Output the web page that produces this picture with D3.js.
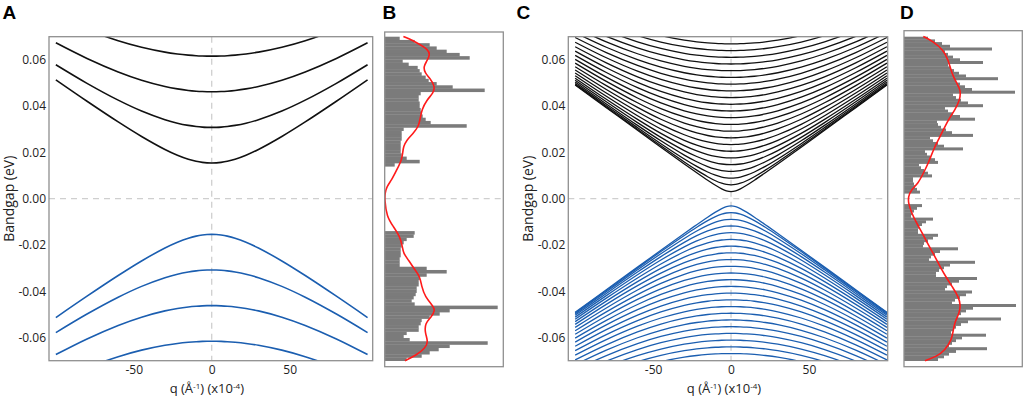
<!DOCTYPE html>
<html>
<head>
<meta charset="utf-8">
<script src="https://cdn.jsdelivr.net/npm/d3@7"></script>
<style>
  body { margin: 0; background: #fff; }
  svg text { font-family: "Open Sans", sans-serif; fill: #222; }
  .panel-letter { font-family: "Liberation Sans", Arial, sans-serif; font-weight: bold; font-size: 19px; fill: #000; }
</style>
</head>
<body>
<div id="chart"></div>
<script>

// ---- data (energies in eV, q in 1e-4 1/A) ----

// half q grid, bands are symmetric about q = 0
var qHalf = [0, 3, 6, 10, 15, 22, 30, 45, 60, 80, 100];

// panel A: band energy magnitude at each qHalf point (conduction +, valence -)
var bandA1 = [0.0154, 0.01547, 0.01568, 0.01616, 0.01706, 0.0188, 0.02129, 0.0269, 0.03319, 0.04212, 0.05136];
var bandA2 = [0.0308, 0.03084, 0.03094, 0.03119, 0.03167, 0.03263, 0.03413, 0.03788, 0.04258, 0.04985, 0.05788];
var bandA3 = [0.0462, 0.04622, 0.04629, 0.04646, 0.04678, 0.04744, 0.04848, 0.05119, 0.05476, 0.06059, 0.06735];
var bandA4 = [0.0616, 0.06162, 0.06167, 0.06179, 0.06204, 0.06254, 0.06333, 0.06543, 0.06826, 0.07301, 0.07871];

// panel C: 23 bands
var bandsC = [
  [0.0031, 0.00343, 0.00427, 0.0058, 0.00798, 0.01122, 0.01502, 0.02227, 0.02956, 0.03932, 0.0491],
  [0.0060, 0.00618, 0.00668, 0.00775, 0.00949, 0.01234, 0.01588, 0.02285, 0.03001, 0.03966, 0.04937],
  [0.0089, 0.00902, 0.00937, 0.01016, 0.01154, 0.01398, 0.01718, 0.02378, 0.03072, 0.0402, 0.0498],
  [0.0118, 0.01189, 0.01216, 0.01278, 0.0139, 0.01598, 0.01885, 0.02501, 0.03168, 0.04094, 0.0504],
  [0.0147, 0.01477, 0.01499, 0.0155, 0.01644, 0.01823, 0.02079, 0.0265, 0.03287, 0.04187, 0.05116],
  [0.0176, 0.01766, 0.01784, 0.01827, 0.01907, 0.02064, 0.02293, 0.02821, 0.03427, 0.04297, 0.05207],
  [0.0205, 0.02055, 0.02071, 0.02108, 0.02178, 0.02316, 0.02523, 0.03011, 0.03584, 0.04424, 0.05312],
  [0.0234, 0.02345, 0.02358, 0.02391, 0.02453, 0.02576, 0.02763, 0.03215, 0.03758, 0.04565, 0.0543],
  [0.0263, 0.02634, 0.02646, 0.02675, 0.02731, 0.02842, 0.03013, 0.03432, 0.03945, 0.0472, 0.05561],
  [0.0292, 0.02924, 0.02935, 0.02961, 0.03011, 0.03113, 0.03269, 0.03659, 0.04144, 0.04888, 0.05704],
  [0.0321, 0.03213, 0.03223, 0.03247, 0.03293, 0.03386, 0.03531, 0.03894, 0.04353, 0.05067, 0.05858],
  [0.0350, 0.03503, 0.03512, 0.03534, 0.03576, 0.03662, 0.03796, 0.04137, 0.04571, 0.05255, 0.06022],
  [0.0379, 0.03793, 0.03801, 0.03822, 0.03861, 0.0394, 0.04065, 0.04385, 0.04797, 0.05453, 0.06195],
  [0.0408, 0.04083, 0.04091, 0.04109, 0.04146, 0.0422, 0.04337, 0.04638, 0.05029, 0.05658, 0.06376],
  [0.0437, 0.04372, 0.0438, 0.04397, 0.04431, 0.04501, 0.04611, 0.04895, 0.05267, 0.05871, 0.06566],
  [0.0466, 0.04662, 0.04669, 0.04686, 0.04718, 0.04783, 0.04886, 0.05155, 0.0551, 0.0609, 0.06762],
  [0.0495, 0.04952, 0.04959, 0.04974, 0.05004, 0.05066, 0.05164, 0.05419, 0.05757, 0.06314, 0.06965],
  [0.0524, 0.05242, 0.05248, 0.05263, 0.05291, 0.0535, 0.05442, 0.05685, 0.06008, 0.06544, 0.07174],
  [0.0553, 0.05532, 0.05538, 0.05552, 0.05579, 0.05634, 0.05722, 0.05953, 0.06263, 0.06778, 0.07389],
  [0.0582, 0.05822, 0.05827, 0.05841, 0.05866, 0.05919, 0.06003, 0.06224, 0.0652, 0.07017, 0.07608],
  [0.0611, 0.06112, 0.06117, 0.0613, 0.06154, 0.06204, 0.06284, 0.06496, 0.06781, 0.07259, 0.07832],
  [0.0640, 0.06402, 0.06407, 0.06419, 0.06442, 0.0649, 0.06567, 0.06769, 0.07043, 0.07505, 0.0806],
  [0.0669, 0.06692, 0.06697, 0.06708, 0.0673, 0.06776, 0.0685, 0.07044, 0.07308, 0.07754, 0.08293]
];

// panel B histogram: 100 bins from -0.07 to 0.07 (bottom to top)
var histB_start = -0.07, histB_width = 0.0014;
var histB = [
  22, 37, 45, 54, 65, 103, 25, 19, 22, 34, 34, 36, 37, 45, 55, 65, 113, 30, 27, 29,
  31, 32, 32, 34, 34, 35, 42, 62, 42, 15, 15, 15, 16, 16, 16, 17, 19, 22, 29, 30,
  0, 0, 0, 0, 0, 0, 0, 0, 0, 0,
  0, 0, 0, 0, 0, 0, 0, 0, 0, 0,
  10, 35, 22, 17, 16, 16, 16, 16, 17, 17, 17, 19, 82, 46, 41, 38, 37, 36, 35, 35,
  34, 34, 36, 100, 68, 52, 44, 41, 37, 35, 33, 24, 18, 85, 75, 62, 52, 45, 30, 15
];
var kdeB_E = [0.0701, 0.0672, 0.0643, 0.0622, 0.0593, 0.0571, 0.0542, 0.0521, 0.0485, 0.0456, 0.0427, 0.0384, 0.0341, 0.0312, 0.0283,
  0.0254, 0.0225, 0.0197, 0.0168, 0.0124, 0.0081, 0.0052, 0.0024, -0.0005, -0.0077, -0.0121, -0.0164, -0.0207, -0.0236, -0.0265,
  -0.0308, -0.0337, -0.0380, -0.0423, -0.0466, -0.0481, -0.0510, -0.0538, -0.0581, -0.0618, -0.0646, -0.0675, -0.0700];
var kdeB_V = [18.7, 33.7, 43.7, 45.3, 42, 38.7, 40.3, 45.3, 50.3, 48.7, 42, 37, 35.3, 33.7, 28.7,
  22, 18.7, 18, 17, 12, 7, 2, 0.3, 0, 2, 8.7, 15.3, 17.7, 18.7, 23.7,
  30.3, 35.3, 37, 40.3, 48.7, 50.3, 47, 40.3, 40.3, 43.7, 40.3, 32, 20.3];

// panel D histogram: 120 bins from -0.07 to 0.07 (bottom to top)
var histD_start = -0.07, histD_width = 0.14 / 120;
var histD = [
  34, 40, 45, 52, 83, 45, 48, 52, 58, 82,
  47, 49, 52, 57, 64, 97, 54, 57, 62, 69,
  112, 48, 51, 56, 62, 68, 41, 43, 48, 55,
  73, 32, 32, 35, 40, 46, 71, 25, 27, 31,
  36, 54, 19, 20, 24, 29, 34, 14, 14, 15,
  18, 22, 29, 7, 8, 10, 13, 18, 0, 0,
  0, 0, 16, 13, 11, 10, 9, 9, 28, 24,
  20, 17, 15, 34, 31, 26, 23, 21, 59, 40,
  34, 29, 26, 69, 48, 42, 37, 34, 33, 71,
  56, 49, 44, 41, 79, 64, 57, 52, 49, 111,
  68, 61, 56, 52, 94, 62, 55, 50, 46, 44,
  79, 56, 49, 44, 41, 88, 46, 38, 31, 24
];
var kdeD_E = [0.0701, 0.0679, 0.0643, 0.0600, 0.0542, 0.0499, 0.0470, 0.0427, 0.0384, 0.0341, 0.0297, 0.0254, 0.0211, 0.0153, 0.0110,
  0.0067, 0.0038, 0.0009, -0.0019, -0.0063, -0.0106, -0.0156, -0.0200, -0.0250, -0.0293, -0.0344, -0.0387, -0.0423, -0.0459, -0.0495,
  -0.0531, -0.0567, -0.0610, -0.0654, -0.0682, -0.0700];
var kdeD_V = [19.3, 29.3, 39.3, 44.3, 47.7, 52.7, 56.7, 56, 51, 44.3, 39.3, 34.3, 29.3, 24.3, 19.3,
  14.3, 7, 4.3, 4.3, 7.7, 12.7, 19.3, 24.3, 31, 36, 42.7, 49.3, 54.3, 56.7, 55.3,
  51, 49.3, 47.7, 41, 32.7, 21];

// ticks
var yTicks = [-0.06, -0.04, -0.02, 0, 0.02, 0.04, 0.06];
var yTickLabels = ["-0.06", "-0.04", "-0.02", "0.00", "0.02", "0.04", "0.06"];
var xTicks = [-50, 0, 50];
var xTickLabels = ["-50", "0", "50"];

// ---- drawing ----

var svg = d3.select("#chart").append("svg")
  .attr("width", 1024)
  .attr("height", 397);

var y = d3.scaleLinear().domain([-0.07, 0.07]).range([360.7, 36.7]);

var black = "#111", blue = "#1b5eb0", red = "#ff1a1a", barGray = "#7b7b7b", frame = "#8f8f8f";

function bandPoints(vals) {
  var left = qHalf.map(function(q, i) { return [-q, vals[i]]; }).reverse();
  var right = qHalf.slice(1).map(function(q, i) { return [q, vals[i + 1]]; });
  return left.concat(right);
}

function linePanel(id, x0, x1, xDomain, bands, lw) {
  var x = d3.scaleLinear().domain(xDomain).range([x0, x1]);
  var g = svg.append("g");

  svg.append("clipPath").attr("id", "clip" + id)
    .append("rect")
    .attr("x", x0).attr("y", y.range()[1])
    .attr("width", x1 - x0).attr("height", y.range()[0] - y.range()[1]);

  // dashed zero lines
  g.append("line")
    .attr("x1", x0).attr("x2", x1).attr("y1", y(0)).attr("y2", y(0))
    .attr("stroke", "#cfcfcf").attr("stroke-width", 1.3).attr("stroke-dasharray", "6,5");
  g.append("line")
    .attr("x1", x(0)).attr("x2", x(0)).attr("y1", y.range()[1]).attr("y2", y.range()[0])
    .attr("stroke", "#cfcfcf").attr("stroke-width", 1.3).attr("stroke-dasharray", "6,5");

  var plot = g.append("g").attr("clip-path", "url(#clip" + id + ")");

  [1, -1].forEach(function(sign) {
    var line = d3.line()
      .x(function(d) { return x(d[0]); })
      .y(function(d) { return y(sign * d[1]); })
      .curve(d3.curveCatmullRom.alpha(0.5));
    plot.selectAll("path.b" + (sign > 0 ? "c" : "v"))
      .data(bands)
      .enter().append("path")
      .attr("class", "b" + (sign > 0 ? "c" : "v"))
      .attr("d", function(b) { return line(bandPoints(b)); })
      .attr("fill", "none")
      .attr("stroke", sign > 0 ? black : blue)
      .attr("stroke-width", lw);
  });

  // frame
  g.append("rect")
    .attr("x", x0).attr("y", y.range()[1])
    .attr("width", x1 - x0).attr("height", y.range()[0] - y.range()[1])
    .attr("fill", "none").attr("stroke", frame).attr("stroke-width", 1.3);

  // axes
  var yAxis = d3.axisLeft(y).tickValues(yTicks).tickSize(0).tickPadding(3)
    .tickFormat(function(d, i) { return yTickLabels[i]; });
  var ya = g.append("g").attr("transform", "translate(" + x0 + ",0)").call(yAxis);
  ya.select(".domain").remove();
  ya.selectAll("text").style("font-size", "12px").style("font-family", "'Open Sans', sans-serif").attr("fill", "#222");

  var xAxis = d3.axisBottom(x).tickValues(xTicks).tickSize(0).tickPadding(5)
    .tickFormat(function(d, i) { return xTickLabels[i]; });
  var xa = g.append("g").attr("transform", "translate(0," + y.range()[0] + ")").call(xAxis);
  xa.select(".domain").remove();
  xa.selectAll("text").style("font-size", "12px").style("font-family", "'Open Sans', sans-serif").attr("fill", "#222");

  // axis titles
  g.append("text")
    .attr("transform", "translate(" + (x0 - 35.5) + "," + y(0) + ") rotate(-90)")
    .attr("text-anchor", "middle")
    .style("font-size", "14px")
    .text("Bandgap (eV)");

  var t = g.append("text")
    .attr("x", (x0 + x1) / 2 - 4).attr("y", 393)
    .attr("text-anchor", "middle")
    .style("font-size", "13px");
  t.append("tspan").text("q (Å");
  t.append("tspan").attr("dy", -4).style("font-size", "8px").text("-1");
  t.append("tspan").attr("dy", 4).text(") (x10");
  t.append("tspan").attr("dy", -4).style("font-size", "8px").text("-4");
  t.append("tspan").attr("dy", 4).text(")");
}

function histPanel(bx0, bx1, by0, by1, maxV, counts, start, width, kdeE, kdeV) {
  var x = d3.scaleLinear().domain([0, maxV]).range([bx0, bx1]);
  var g = svg.append("g");

  g.append("line")
    .attr("x1", bx0).attr("x2", bx1).attr("y1", y(0)).attr("y2", y(0))
    .attr("stroke", "#cfcfcf").attr("stroke-width", 1.3).attr("stroke-dasharray", "6,5");

  g.selectAll("rect.bar")
    .data(counts)
    .enter().append("rect")
    .attr("class", "bar")
    .attr("x", x(0))
    .attr("y", function(d, i) { return y(start + (i + 1) * width); })
    .attr("width", function(d) { return x(d) - x(0); })
    .attr("height", function(d, i) { return y(start + i * width) - y(start + (i + 1) * width) + 0.3; })
    .attr("fill", barGray);

  var kde = kdeE.map(function(e, i) { return [kdeV[i], e]; });
  g.append("path")
    .attr("d", d3.line()
      .x(function(d) { return x(d[0]); })
      .y(function(d) { return y(d[1]); })
      .curve(d3.curveBasis)(kde))
    .attr("fill", "none")
    .attr("stroke", red)
    .attr("stroke-width", 1.6);

  g.append("rect")
    .attr("x", bx0).attr("y", by0)
    .attr("width", bx1 - bx0).attr("height", by1 - by0)
    .attr("fill", "none").attr("stroke", frame).attr("stroke-width", 1.3);
}

linePanel("A", 49, 372.7, [-104.4, 103.3], [bandA1, bandA2, bandA3, bandA4], 1.6);
histPanel(384.7, 503.3, 32, 366.7, 118.6, histB, histB_start, histB_width, kdeB_E, kdeB_V);
linePanel("C", 568.3, 887.7, [-104.4, 100.5], bandsC, 1.3);
histPanel(904, 1022.3, 30.7, 366.7, 118.3, histD, histD_start, histD_width, kdeD_E, kdeD_V);

// panel letters
var letters = [["A", 2.5], ["B", 382.5], ["C", 516.5], ["D", 900]];
svg.selectAll("text.panel-letter")
  .data(letters)
  .enter().append("text")
  .attr("class", "panel-letter")
  .attr("x", function(d) { return d[1]; })
  .attr("y", 18.5)
  .text(function(d) { return d[0]; });

</script>
</body>
</html>
